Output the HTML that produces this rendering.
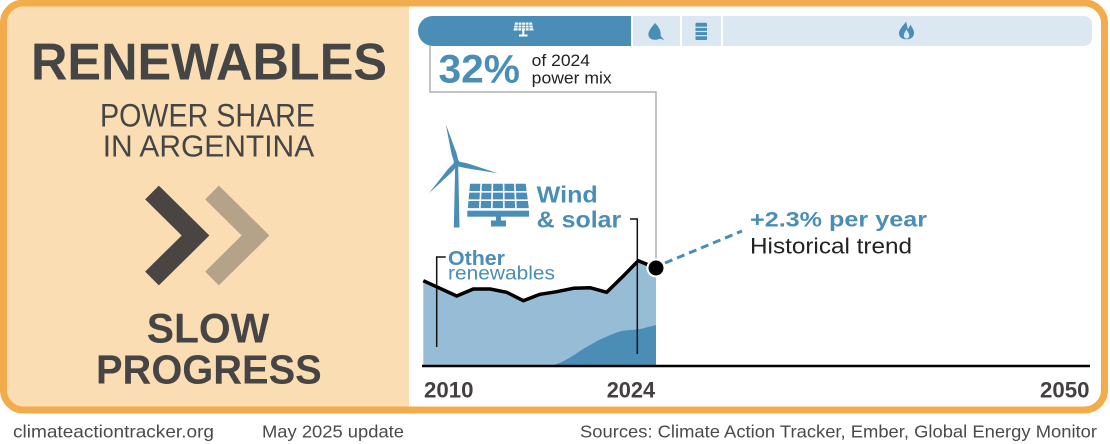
<!DOCTYPE html>
<html><head><meta charset="utf-8"><style>
html,body{margin:0;padding:0;background:#fff;}
svg{display:block;}
text{font-family:"Liberation Sans",sans-serif;}
</style></head><body>
<svg width="1110" height="444" viewBox="0 0 1110 444" xmlns="http://www.w3.org/2000/svg">
<rect x="0" y="0" width="1110" height="444" fill="#fff"/>
<!-- left beige panel -->
<path d="M24,6.5 H409 V407 H24 A17,17 0 0 1 7,390 V23.5 A17,17 0 0 1 24,6.5 Z" fill="#FADDB3"/>
<!-- orange border -->
<rect x="3.5" y="3" width="1101" height="407" rx="20" ry="20" fill="none" stroke="#F2AC4C" stroke-width="7"/>

<!-- left panel text -->
<text x="31" y="79.3" font-size="52" font-weight="bold" fill="#454545" textLength="356" lengthAdjust="spacingAndGlyphs">RENEWABLES</text>
<text x="100" y="126.7" font-size="32" fill="#454545" textLength="215" lengthAdjust="spacingAndGlyphs">POWER SHARE</text>
<text x="102.7" y="156.7" font-size="31" fill="#454545" textLength="211.5" lengthAdjust="spacingAndGlyphs">IN ARGENTINA</text>
<!-- chevrons -->
<polyline points="152,192.5 195.5,235.5 152,278.5" fill="none" stroke="#4A4443" stroke-width="19.5" stroke-linejoin="miter"/>
<polyline points="212,192.5 255.5,235.5 212,278.5" fill="none" stroke="#B5A389" stroke-width="19.5" stroke-linejoin="miter"/>
<text x="146.7" y="342.3" font-size="42" font-weight="bold" fill="#454545" textLength="122.6" lengthAdjust="spacingAndGlyphs">SLOW</text>
<text x="96" y="383.3" font-size="41" font-weight="bold" fill="#454545" textLength="225.7" lengthAdjust="spacingAndGlyphs">PROGRESS</text>

<!-- footer -->
<text x="13" y="437.5" font-size="17.5" fill="#4a4a4a" textLength="201" lengthAdjust="spacingAndGlyphs">climateactiontracker.org</text>
<text x="262" y="437.5" font-size="17.5" fill="#4a4a4a" textLength="142" lengthAdjust="spacingAndGlyphs">May 2025 update</text>
<text x="580" y="437.5" font-size="17.5" fill="#4a4a4a" textLength="517" lengthAdjust="spacingAndGlyphs">Sources: Climate Action Tracker, Ember, Global Energy Monitor</text>

<!-- top bar -->
<path d="M433,16 H631 V46 H433 A15,15 0 0 1 433,16 Z" fill="#4A8DB7"/>
<rect x="633" y="16" width="47" height="30" fill="#DCE8F1"/>
<rect x="682" y="16" width="39" height="30" fill="#DCE8F1"/>
<path d="M723,16 H1084 A8,8 0 0 1 1092,24 V38 A8,8 0 0 1 1084,46 H723 Z" fill="#DCE8F1"/>
<!-- small solar icon -->
<g>
<path d="M515,22.5 H532 L533.5,30.5 H513.5 Z" fill="#fff"/>
<g stroke="#4A8DB7" stroke-width="0.8">
<line x1="514" y1="25.2" x2="533" y2="25.2"/>
<line x1="514" y1="27.9" x2="533" y2="27.9"/>
<line x1="518.3" y1="22.5" x2="517.9" y2="30.5"/>
<line x1="521.8" y1="22.5" x2="521.6" y2="30.5"/>
<line x1="525.3" y1="22.5" x2="525.4" y2="30.5"/>
<line x1="528.8" y1="22.5" x2="529.1" y2="30.5"/>
</g>
<rect x="522.3" y="30.5" width="2" height="4.5" fill="#fff"/>
<rect x="519" y="34.5" width="8.5" height="2" fill="#fff"/>
</g>
<!-- leaf -->
<path d="M655,23 C650,29 647,33 649,37 C651,40.5 657,40.2 660,38.6 C662,39.2 663.5,40 664,40.3 C662.5,38 661.5,36.8 660.6,35.6 C661.2,31 659,27 655,23 Z" fill="#4A8DB7"/>
<!-- barrel -->
<rect x="695.5" y="22.7" width="11.5" height="17.3" rx="1" fill="#4A8DB7"/>
<g stroke="#DCE8F1" stroke-width="1.2"><line x1="695" y1="27.3" x2="707.5" y2="27.3"/><line x1="695" y1="31.5" x2="707.5" y2="31.5"/><line x1="695" y1="35.7" x2="707.5" y2="35.7"/></g>
<!-- flame -->
<path d="M906,21.7 C903,26 899,29 899,33.5 C899,37 902,39.3 906.5,39.3 C911,39.3 914,37 914,33 C914,29.5 911.5,27 910.5,24.5 C909.5,27 908.8,28 907.8,29 C907.3,26.3 906.8,24 906,21.7 Z" fill="#4A8DB7"/>
<path d="M906.5,29.5 C904.5,32.5 903.5,34.5 904,36.5 C904.5,38 905.5,38.6 906.5,38.6 C908,38.6 909.3,37.5 909.3,35.5 C909.3,33.5 907.8,32 906.5,29.5 Z" fill="#DCE8F1"/>

<!-- callout box lines -->
<g stroke="#AFAFAF" stroke-width="1.5" fill="none">
<polyline points="430,46 430,92 656,92 656,262"/>
</g>
<text x="438.5" y="82.7" font-size="40" font-weight="bold" fill="#4A8DB7" textLength="81.5" lengthAdjust="spacingAndGlyphs">32%</text>
<text x="531.7" y="66" font-size="17" fill="#222" textLength="58.3" lengthAdjust="spacingAndGlyphs">of 2024</text>
<text x="531.7" y="83.3" font-size="17" fill="#222" textLength="80" lengthAdjust="spacingAndGlyphs">power mix</text>

<!-- wind turbine -->
<g fill="#4A8DB7">
<polygon points="455.2,165 458.2,165 459.5,227.5 453.8,227.5"/>
<circle cx="456.7" cy="163.3" r="3.2"/>
<polygon points="455,165 451.6,154.2 445.7,124 456.4,152.8 459,163"/>
<polygon points="456,161 467.6,163.4 497.7,173.3 466.4,168.2 456,166"/>
<polygon points="455,162 448,169 429,193.3 451.6,172.4 458,165"/>
</g>
<!-- solar panel -->
<g fill="#4A8DB7">
<path d="M470,183.8 H525.7 L529,209.5 H467.7 Z"/>
<rect x="467.3" y="210.7" width="61.7" height="6" />
<rect x="496" y="216.5" width="5" height="5"/>
<rect x="491" y="220.5" width="15" height="6"/>
</g>
<g stroke="#fff" stroke-width="1.6">
<line x1="468" y1="191.8" x2="528" y2="191.8"/>
<line x1="468" y1="200.2" x2="528" y2="200.2"/>
<line x1="467" y1="208.9" x2="530" y2="208.9"/>
<line x1="481.2" y1="183.5" x2="479.8" y2="209"/>
<line x1="492.4" y1="183.5" x2="491.8" y2="209"/>
<line x1="503.6" y1="183.5" x2="503.9" y2="209"/>
<line x1="514.8" y1="183.5" x2="516" y2="209"/>
</g>
<text x="536.7" y="202.7" font-size="23" font-weight="bold" fill="#4A8DB7" textLength="61" lengthAdjust="spacingAndGlyphs">Wind</text>
<text x="536.7" y="227.3" font-size="23" font-weight="bold" fill="#4A8DB7" textLength="84.5" lengthAdjust="spacingAndGlyphs">&amp; solar</text>

<!-- areas -->
<path d="M423.3,366 L423.3,280.7 L456.7,296 L473.3,289 L490,289 L506.7,292.3 L523.3,300.7 L540,294.3 L556.7,291.7 L573.3,288.3 L590,287.7 L606.7,292.3 L623.3,276 L638.3,260.7 L656,267 L656,366 Z" fill="#97BCD6"/>
<path d="M550,366 C560,364 570,358 580,351 C590,345 598,340 607,336.5 C615,333 620,331 625,330.5 C632,330 640,329.5 646,327.5 L656,325 L656,366 Z" fill="#4C8DB6"/>
<!-- leader lines -->
<g stroke="#111" stroke-width="1.5" fill="none">
<polyline points="445.7,257 436.7,257 436.7,347"/>
<polyline points="630,219 637.3,219 637.3,354"/>
</g>
<!-- black line -->
<polyline points="423.3,280.7 456.7,296 473.3,289 490,289 506.7,292.3 523.3,300.7 540,294.3 556.7,291.7 573.3,288.3 590,287.7 606.7,292.3 623.3,276 638.3,260.7 656,268" fill="none" stroke="#000" stroke-width="3.5" stroke-linejoin="round"/>
<text x="448" y="265" font-size="20" font-weight="bold" fill="#4A8DB7" textLength="57" lengthAdjust="spacingAndGlyphs">Other</text>
<text x="448" y="279.3" font-size="19" fill="#4A8DB7" textLength="107" lengthAdjust="spacingAndGlyphs">renewables</text>

<!-- axis -->
<line x1="422" y1="366" x2="1090" y2="366" stroke="#000" stroke-width="2.5"/>
<text x="424" y="397.3" font-size="22" font-weight="bold" fill="#454040" textLength="49.5" lengthAdjust="spacingAndGlyphs">2010</text>
<text x="606.7" y="397.3" font-size="22" font-weight="bold" fill="#454040" textLength="48.5" lengthAdjust="spacingAndGlyphs">2024</text>
<text x="1040" y="397.3" font-size="22" font-weight="bold" fill="#454040" textLength="49.5" lengthAdjust="spacingAndGlyphs">2050</text>

<!-- trend -->
<line x1="665" y1="263" x2="742" y2="231" stroke="#4A8DB7" stroke-width="3" stroke-dasharray="8,5"/>
<circle cx="656" cy="268" r="8.5" fill="#000" stroke="#fff" stroke-width="2"/>
<text x="750" y="226.7" font-size="21" font-weight="bold" fill="#4A8DB7" textLength="177" lengthAdjust="spacingAndGlyphs">+2.3% per year</text>
<text x="750" y="253.3" font-size="22" fill="#222" textLength="162" lengthAdjust="spacingAndGlyphs">Historical trend</text>
</svg>
</body></html>
